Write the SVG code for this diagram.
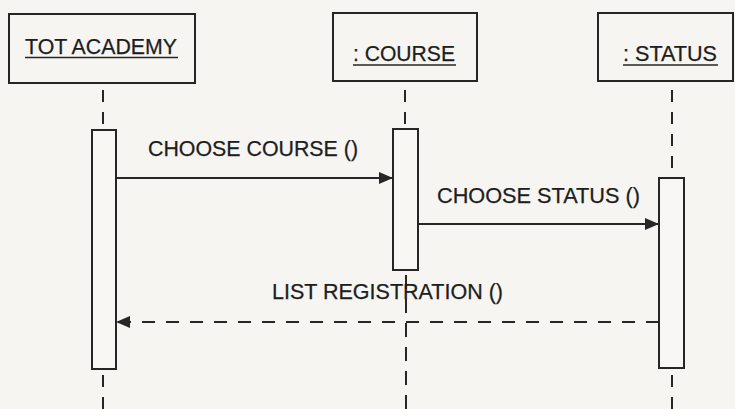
<svg xmlns="http://www.w3.org/2000/svg" width="735" height="409" viewBox="0 0 735 409">
  <style>
    .bg { fill: #f6f5f1; }
    .box { fill: none; stroke: #262626; stroke-width: 2; }
    .bar { fill: #f8f7f3; stroke: #262626; stroke-width: 2; }
    .life { stroke: #262626; stroke-width: 2; stroke-dasharray: 12 10; fill: none; }
    .msg { stroke: #262626; stroke-width: 2; fill: none; }
    .ret { stroke: #262626; stroke-width: 2; fill: none; stroke-dasharray: 13 11; }
    .uline { stroke: #262626; stroke-width: 1.6; }
    text { font-family: "Liberation Sans", Arial, sans-serif; font-size: 21.5px; fill: #1e1e1e; stroke: #1e1e1e; stroke-width: 0.25; }
  </style>
  <defs>
    <marker id="head" viewBox="0 0 14 12" refX="14" refY="6" markerWidth="14" markerHeight="12" markerUnits="userSpaceOnUse" orient="auto">
      <path d="M0,0 L14,6 L0,12 Z" fill="#262626"/>
    </marker>
  </defs>

  <rect class="bg" x="0" y="0" width="735" height="409"/>

  <!-- lifelines -->
  <g id="lifelines">
    <line class="life" x1="103" y1="90" x2="103" y2="130"/>
    <line class="life" x1="103" y1="375" x2="103" y2="409"/>
    <line class="life" x1="405" y1="90" x2="405" y2="129"/>
    <line class="life" x1="406" y1="275" x2="406" y2="409" style="stroke-dasharray: 14 10"/>
    <line class="life" x1="672" y1="90" x2="672" y2="178"/>
    <line class="life" x1="672" y1="375" x2="672" y2="409"/>
  </g>

  <!-- object: TOT ACADEMY -->
  <g id="tot-academy">
    <rect class="box" x="9" y="14" width="186" height="69"/>
    <text x="25" y="54" textLength="152" lengthAdjust="spacingAndGlyphs">TOT ACADEMY</text>
    <line class="uline" x1="25" y1="57.5" x2="178" y2="57.5"/>
    <rect class="bar" x="92" y="130" width="24" height="239"/>
  </g>

  <!-- object: COURSE -->
  <g id="course">
    <rect class="box" x="333" y="13" width="144" height="68"/>
    <text x="353" y="61" textLength="102" lengthAdjust="spacingAndGlyphs">: COURSE</text>
    <line class="uline" x1="353" y1="65" x2="456" y2="65"/>
    <rect class="bar" x="393" y="129" width="25" height="141"/>
  </g>

  <!-- object: STATUS -->
  <g id="status">
    <rect class="box" x="598" y="13" width="135" height="68"/>
    <text x="623" y="61" textLength="94" lengthAdjust="spacingAndGlyphs">: STATUS</text>
    <line class="uline" x1="623" y1="65" x2="718" y2="65"/>
    <rect class="bar" x="659" y="178" width="25" height="190"/>
  </g>

  <!-- messages -->
  <g id="connectors">
    <line class="msg" x1="116" y1="178" x2="393" y2="178" marker-end="url(#head)"/>
    <text x="148" y="156" textLength="210" lengthAdjust="spacingAndGlyphs">CHOOSE COURSE ()</text>

    <line class="msg" x1="418" y1="224" x2="659" y2="224" marker-end="url(#head)"/>
    <text x="437" y="203" textLength="203" lengthAdjust="spacingAndGlyphs">CHOOSE STATUS ()</text>

    <line class="ret" x1="659" y1="322" x2="116" y2="322" marker-end="url(#head)"/>
    <text x="272" y="299" textLength="231" lengthAdjust="spacingAndGlyphs">LIST REGISTRATION ()</text>
  </g>
</svg>
